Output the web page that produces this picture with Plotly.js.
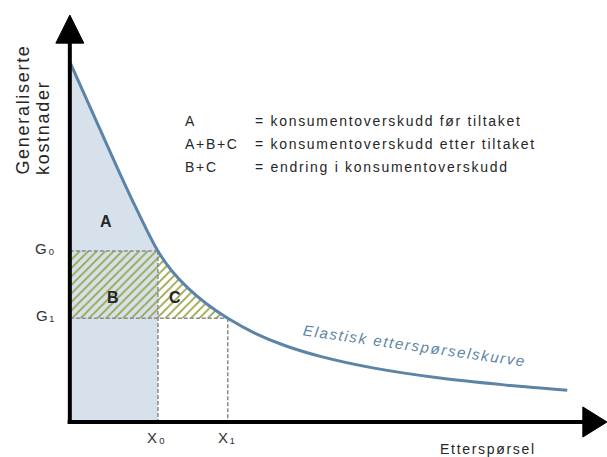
<!DOCTYPE html>
<html>
<head>
<meta charset="utf-8">
<script src="https://cdn.plot.ly/plotly-3.0.1.min.js"></script>
<style>
  html, body { margin: 0; padding: 0; background: #ffffff; }
  #chart { width: 607px; height: 457px; }
  .annotation-text { letter-spacing: 1.7px; }
</style>
</head>
<body>
<div id="chart"></div>
<script>
// Demand curve (quantity -> generalised cost)
const quantity = [0, 0.4, 0.8, 1.2, 1.64, 1.9, 2.2, 2.55, 2.94, 3.45, 4.0, 4.7, 5.64, 6.89, 8.14, 9.26];
const cost     = [8.85, 7.67, 6.49, 5.35, 4.20, 3.71, 3.29, 2.90, 2.55, 2.18, 1.88, 1.60, 1.33, 1.08, 0.905, 0.78];

// Equilibrium points before / after the measure
const X0 = 1.64, G0 = 4.20;
const X1 = 2.94, G1 = 2.55;

// Texts
const xTickLabels = ['X₀', 'X₁'];
const yTickLabels = ['G₀', 'G₁'];
const areaLabels = ['A', 'B', 'C'];
const legendKeys = ['A', 'A+B+C', 'B+C'];
const legendTexts = ['= konsumentoverskudd før tiltaket', '= konsumentoverskudd etter tiltaket', '= endring i konsumentoverskudd'];
const yTitleLines = ['Generaliserte', 'kostnader'];
const xTitle = 'Etterspørsel';
const curveLabel = 'Elastisk etterspørselskurve';

const curveColor = '#5b84a6';
const fillBlue = '#d6e1eb';
const hatchColor = '#98a548';
const dashColor = '#8c8c8c';
const textColor = '#262626';

// Blue area: under the curve up to X0
const blueX = [], blueY = [];
quantity.forEach((q, i) => { if (q <= X0) { blueX.push(q); blueY.push(cost[i]); } });

// Hatched area B + C: between G1 and min(curve, G0), up to X1
const hatchX = [0, 0], hatchY = [G1, G0];
quantity.forEach((q, i) => { if (q >= X0 && q <= X1) { hatchX.push(q); hatchY.push(cost[i]); } });

const traces = [
  {
    x: blueX, y: blueY, type: 'scatter', mode: 'lines',
    line: { width: 0, shape: 'spline', smoothing: 1 },
    fill: 'tozeroy', fillcolor: fillBlue, hoverinfo: 'skip'
  },
  {
    x: hatchX, y: hatchY, type: 'scatter', mode: 'lines',
    line: { width: 0 },
    fill: 'toself', fillcolor: 'rgba(0,0,0,0)',
    fillpattern: { shape: '/', fgcolor: hatchColor, bgcolor: 'rgba(0,0,0,0)', size: 6, solidity: 0.3 },
    hoverinfo: 'skip'
  },
  {
    x: [0, X0, null, 0, X1, null, X0, X0, null, X1, X1],
    y: [G0, G0, null, G1, G1, null, G0, 0, null, G1, 0],
    type: 'scatter', mode: 'lines',
    line: { color: dashColor, width: 1.5, dash: '4px,2px' },
    hoverinfo: 'skip'
  },
  {
    x: quantity, y: cost, type: 'scatter', mode: 'lines',
    line: { color: curveColor, width: 3, shape: 'spline', smoothing: 1 },
    hoverinfo: 'skip'
  }
];

const baseFont = { family: 'Liberation Sans, DejaVu Sans, Arial, sans-serif', color: textColor };

const annotations = [];
// Axis tick-like labels
[X0, X1].forEach((xv, i) => annotations.push({
  x: xv, y: -0.37, xref: 'x', yref: 'y', text: xTickLabels[i], showarrow: false,
  xanchor: 'center', yanchor: 'middle', xshift: -1,
  font: Object.assign({}, baseFont, { size: 15, color: '#333333' })
}));
[G0, G1].forEach((yv, i) => annotations.push({
  x: -0.22, y: yv, xref: 'x', yref: 'y', text: yTickLabels[i], showarrow: false,
  xanchor: 'right', yanchor: 'middle', yshift: 3,
  font: Object.assign({}, baseFont, { size: 15, color: '#333333' })
}));
// Area labels
const areaPos = [[0.68, 4.93], [0.81, 3.05], [1.96, 3.05]];
areaLabels.forEach((t, i) => annotations.push({
  x: areaPos[i][0], y: areaPos[i][1], xref: 'x', yref: 'y', text: t, showarrow: false,
  xanchor: 'center', yanchor: 'middle',
  font: Object.assign({}, baseFont, { size: 16, weight: 'bold' })
}));
// Legend block
legendKeys.forEach((k, i) => {
  const yv = 7.40 - i * 0.565;
  annotations.push({
    x: 2.10, y: yv, xref: 'x', yref: 'y', text: k, showarrow: false,
    xanchor: 'left', yanchor: 'middle', font: Object.assign({}, baseFont, { size: 14 })
  });
  annotations.push({
    x: 3.41, y: yv, xref: 'x', yref: 'y', text: legendTexts[i], showarrow: false,
    xanchor: 'left', yanchor: 'middle', font: Object.assign({}, baseFont, { size: 14 })
  });
});
// Axis titles
yTitleLines.forEach((t, i) => annotations.push({
  x: -0.88 + i * 0.38, y: 6.02, xref: 'x', yref: 'y', text: t, showarrow: false,
  textangle: -90, xanchor: 'center', yanchor: 'bottom',
  font: Object.assign({}, baseFont, { size: 18 })
}));
annotations.push({
  x: 7.78, y: -0.66, xref: 'x', yref: 'y', text: xTitle, showarrow: false,
  xanchor: 'center', yanchor: 'middle', font: Object.assign({}, baseFont, { size: 14 })
});
// Curve label
annotations.push({
  x: 6.41, y: 1.87, xref: 'x', yref: 'y', text: curveLabel, showarrow: false,
  textangle: 8, xanchor: 'center', yanchor: 'middle',
  font: { family: 'Liberation Sans, Arial, sans-serif', size: 15, color: curveColor, style: 'italic' }
});

const shapes = [
  { type: 'line', xref: 'x', yref: 'y', x0: 0, y0: -0.05, x1: 0, y1: 9.4, line: { color: '#000', width: 4 }, layer: 'above' },
  { type: 'line', xref: 'x', yref: 'y', x0: -0.04, y0: 0, x1: 9.6, y1: 0, line: { color: '#000', width: 4 }, layer: 'above' },
  { type: 'path', xref: 'x', yref: 'y', path: 'M -0.26,9.31 L 0.26,9.31 L 0,10.0 Z', fillcolor: '#000', line: { color: '#000', width: 1 }, layer: 'above' },
  { type: 'path', xref: 'x', yref: 'y', path: 'M 9.55,-0.37 L 9.55,0.37 L 10.0,0 Z', fillcolor: '#000', line: { color: '#000', width: 1 }, layer: 'above' }
];

const layout = {
  width: 607, height: 457,
  margin: { l: 0, r: 0, t: 0, b: 0, pad: 0 },
  paper_bgcolor: '#ffffff', plot_bgcolor: '#ffffff',
  showlegend: false,
  xaxis: { range: [-1.3, 10.0], visible: false, fixedrange: true },
  yaxis: { range: [-0.86, 10.37], visible: false, fixedrange: true },
  annotations: annotations,
  shapes: shapes
};

Plotly.newPlot('chart', traces, layout, { displayModeBar: false, staticPlot: true });
</script>
</body>
</html>
